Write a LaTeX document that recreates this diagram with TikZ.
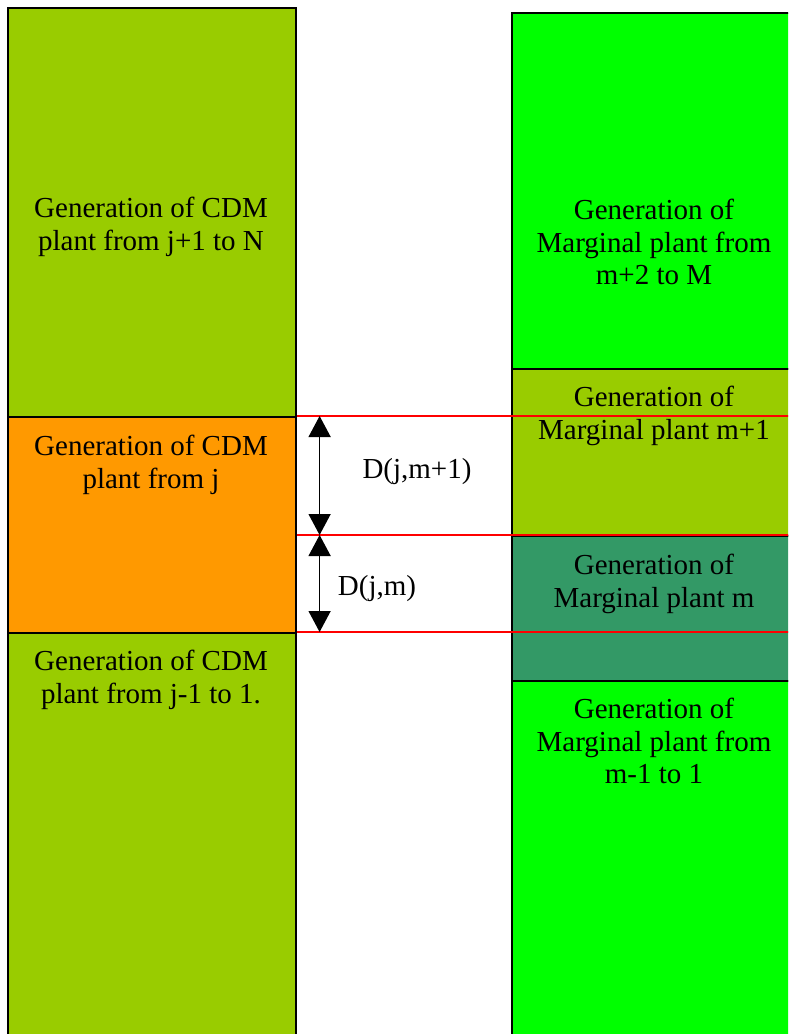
\documentclass[tikz,border=0pt]{standalone}
\usepackage{fontspec}
\setmainfont{Liberation Serif}
\usepackage{tikz}
\usepackage{xcolor}
\usetikzlibrary{arrows.meta}
\usetikzlibrary{positioning}

\definecolor{cdmgreen}{HTML}{99CC00}
\definecolor{cdmorange}{HTML}{FF9900}
\definecolor{mggreen}{HTML}{00FF00}
\definecolor{mgdark}{HTML}{339966}

\tikzset{
  seg/.style={rectangle,draw=black,line width=1.6pt,anchor=north west,inner sep=0pt},
  cdmcol/.style={seg,minimum width=288pt},
  mgcol/.style={seg,minimum width=290pt},
  redline/.style={draw=red,line width=2pt},
  gap/.style={line width=1.5pt,{Triangle[width=22pt,length=21pt]}-{Triangle[width=22pt,length=21pt]}},
  lbl/.style={align=center,inner sep=0pt,font=\fontsize{29}{32.5}\selectfont}
}

\begin{document}
\begin{tikzpicture}[x=1pt,y=-1pt]
  \useasboundingbox (0,0) rectangle (788,1034);
  \clip (0,0) rectangle (788,1034);

  \node[cdmcol,fill=cdmgreen,minimum height=409pt] (cdmhi) at (7,7) {};
  \node[cdmcol,fill=cdmorange,minimum height=216pt] (cdmj) at (7,416) {};
  \node[cdmcol,fill=cdmgreen,minimum height=410pt] (cdmlo) at (7,632) {};

  \node[mgcol,fill=mggreen,minimum height=356pt] (mghi) at (511,12) {};
  \node[mgcol,fill=cdmgreen,minimum height=167pt] (mgup) at (511,368) {};
  \node[mgcol,fill=mgdark,minimum height=145pt] (mgm) at (511,535) {};
  \node[mgcol,fill=mggreen,minimum height=362pt] (mglo) at (511,680) {};

  \draw[redline] (cdmj.north east) -- (cdmj.north east -| mgup.east);
  \draw[redline] (cdmj.east |- mgm.north) -- (mgm.north east);
  \draw[redline,line width=1.3pt] (cdmlo.north east) -- (cdmlo.north east -| mgm.east);

  \path (cdmj.north east) +(23,0) coordinate (dtop);
  \path (cdmj.east |- mgm.north) +(23,0) coordinate (dmid);
  \path (cdmlo.north east) +(23,0) coordinate (dbot);
  \draw[gap] (dtop) -- (dmid);
  \draw[gap] (dmid) -- (dbot);

  \node[lbl,anchor=base] (dup) at (417,478) {D(j,m+1)};
  \node[lbl,anchor=base] (dm) at (377,595) {D(j,m)};

  \node[lbl,anchor=north] (tcdmhi) at (151,197) {Generation of CDM\\plant from j+1 to N};
  \node[lbl,anchor=north] (tcdmj) at (151,435) {Generation of CDM\\plant from j};
  \node[lbl,anchor=north] (tcdmlo) at (151,650) {Generation of CDM\\plant from j-1 to 1.};
  \node[lbl,anchor=north] (tmghi) at (654,199) {Generation of\\Marginal plant from\\m+2 to M};
  \node[lbl,anchor=north] (tmgup) at (654,386) {Generation of\\Marginal plant m+1};
  \node[lbl,anchor=north] (tmgm) at (654,554) {Generation of\\Marginal plant m};
  \node[lbl,anchor=north] (tmglo) at (654,698) {Generation of\\Marginal plant from\\m-1 to 1};
\end{tikzpicture}
\end{document}
